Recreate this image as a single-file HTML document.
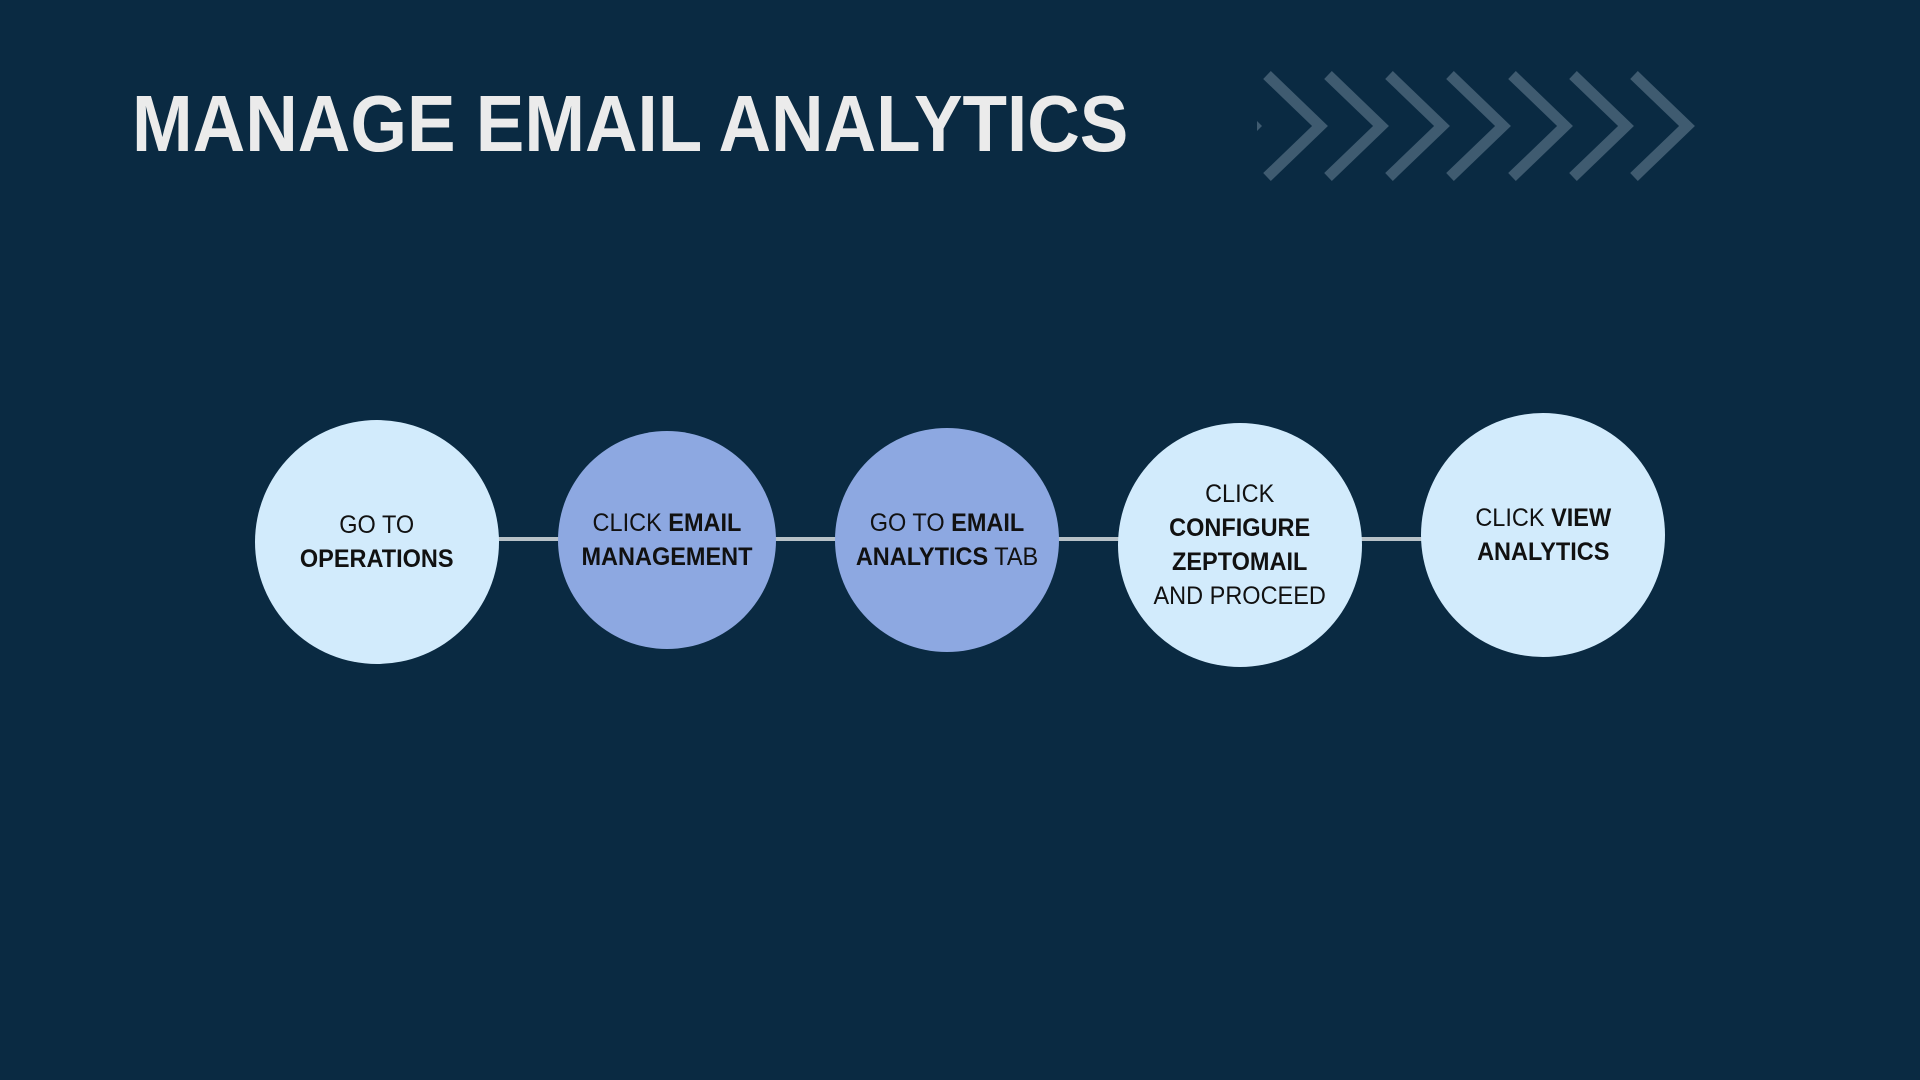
<!DOCTYPE html>
<html><head><style>
body{margin:0;width:1920px;height:1080px;background:#0a2a42;overflow:hidden;position:relative;font-family:"Liberation Sans",sans-serif}
.t{position:absolute;left:132px;top:78px;font-size:80px;font-weight:bold;color:#ebebeb;transform:scaleX(0.91);transform-origin:left top;white-space:nowrap}
.c{position:absolute;border-radius:50%;display:flex;align-items:center;justify-content:center;text-align:center;font-size:25px;line-height:34px;color:#111}
.c div{transform:scaleX(0.94);white-space:nowrap}
.l{background:#d2ebfc}.m{background:#8da8e1}
.ln{position:absolute;height:4px;background:#b8c2c8}
</style></head><body>
<div class="t">MANAGE EMAIL ANALYTICS</div>
<svg style="position:absolute;left:0;top:0" width="1920" height="1080">
<g stroke="#3f5b70" stroke-width="11" fill="none">
<polyline points="1267,75 1320,126 1267,177"/>
<polyline points="1328,75 1381,126 1328,177"/>
<polyline points="1389,75 1442,126 1389,177"/>
<polyline points="1450,75 1503,126 1450,177"/>
<polyline points="1512,75 1565,126 1512,177"/>
<polyline points="1573,75 1626,126 1573,177"/>
<polyline points="1634,75 1687,126 1634,177"/>
</g>
<polygon points="1257,121 1262,126 1257,131" fill="#3f5b70"/>
</svg>
<div class="ln" style="left:495px;top:537px;width:930px"></div>
<div class="c l" style="left:255px;top:420px;width:244px;height:244px"><div>GO TO<br><b>OPERATIONS</b></div></div>
<div class="c m" style="left:558px;top:431px;width:218px;height:218px"><div>CLICK <b>EMAIL<br>MANAGEMENT</b></div></div>
<div class="c m" style="left:835px;top:428px;width:224px;height:224px"><div>GO TO <b>EMAIL<br>ANALYTICS</b> TAB</div></div>
<div class="c l" style="left:1118px;top:423px;width:244px;height:244px"><div>CLICK<br><b>CONFIGURE<br>ZEPTOMAIL</b><br>AND PROCEED</div></div>
<div class="c l" style="left:1421px;top:413px;width:244px;height:244px"><div>CLICK <b>VIEW<br>ANALYTICS</b></div></div>
</body></html>
